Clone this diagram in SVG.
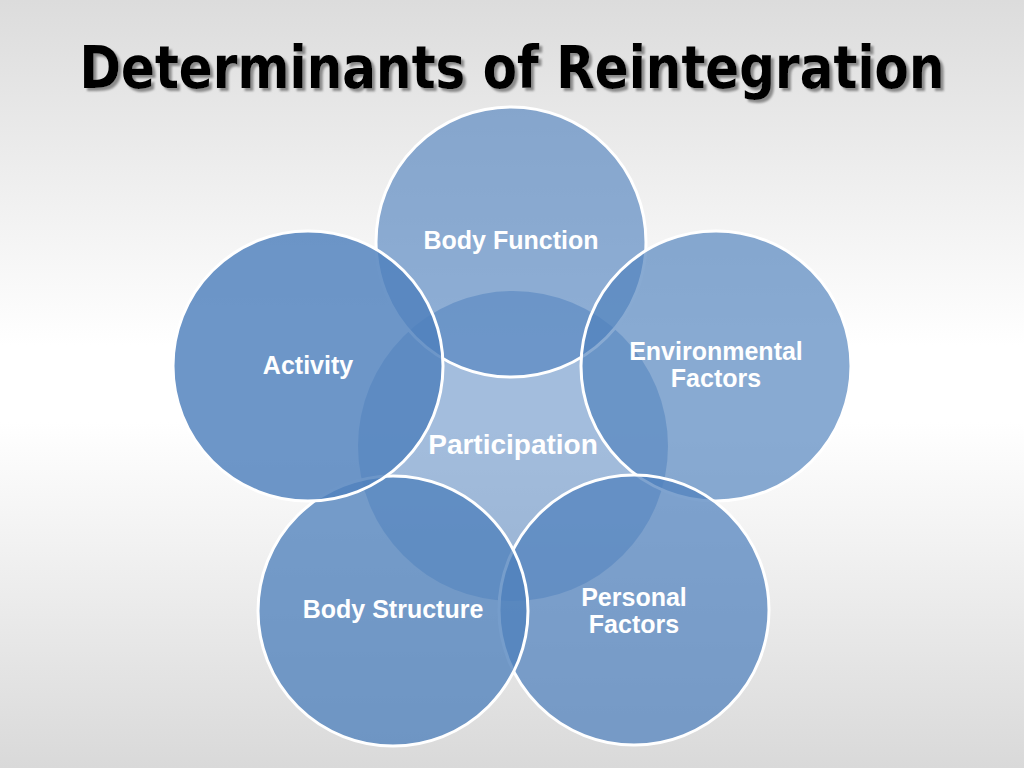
<svg xmlns="http://www.w3.org/2000/svg" width="1024" height="768" viewBox="0 0 1024 768">
<defs>
<linearGradient id="bg" x1="0" y1="0" x2="0" y2="1">
<stop offset="0" stop-color="#dcdcdc"/>
<stop offset="0.45" stop-color="#ffffff"/>
<stop offset="0.55" stop-color="#ffffff"/>
<stop offset="1" stop-color="#d9d9d9"/>
</linearGradient>
<filter id="shadow" x="-5%" y="-20%" width="110%" height="140%">
<feDropShadow dx="3" dy="3" stdDeviation="0.8" flood-color="#808080" flood-opacity="0.9"/>
</filter>
<style>
.c{fill:#4f81bd;stroke:#ffffff;stroke-width:3}
.lbl{font-family:'Liberation Sans',Arial,sans-serif;font-weight:bold;fill:#ffffff;text-anchor:middle;font-size:25px}
.title{font-family:'DejaVu Sans Condensed','DejaVu Sans',sans-serif;font-stretch:condensed;font-weight:bold;font-size:58px;text-anchor:middle}
</style>
</defs>
<rect width="1024" height="768" fill="url(#bg)"/>
<g id="title">
<text class="title" x="512" y="88" fill="#000000" filter="url(#shadow)" textLength="865" lengthAdjust="spacingAndGlyphs">Determinants of Reintegration</text>
</g>
<g id="participation">
<circle cx="513" cy="446" r="155" fill="#4f81bd" fill-opacity="0.52"/>
</g>
<g id="body-function">
<circle class="c" cx="511" cy="242" r="135" fill-opacity="0.64"/>
</g>
<g id="environmental-factors">
<circle class="c" cx="716" cy="366" r="135" fill-opacity="0.68"/>
</g>
<g id="personal-factors">
<circle class="c" cx="634" cy="610" r="135" fill-opacity="0.73"/>
</g>
<g id="body-structure">
<circle class="c" cx="393" cy="611" r="135" fill-opacity="0.78"/>
</g>
<g id="activity">
<circle class="c" cx="308" cy="366" r="135" fill-opacity="0.83"/>
</g>
<g id="connectors"></g>
<g id="labels">
<text class="lbl" x="511" y="249">Body Function</text>
<text class="lbl" x="308" y="374">Activity</text>
<text class="lbl" x="716" y="360">Environmental</text>
<text class="lbl" x="716" y="387">Factors</text>
<text class="lbl" x="634" y="606">Personal</text>
<text class="lbl" x="634" y="633">Factors</text>
<text class="lbl" x="393" y="618">Body Structure</text>
<text class="lbl" x="513" y="454" style="font-size:28px">Participation</text>
</g>
</svg>
